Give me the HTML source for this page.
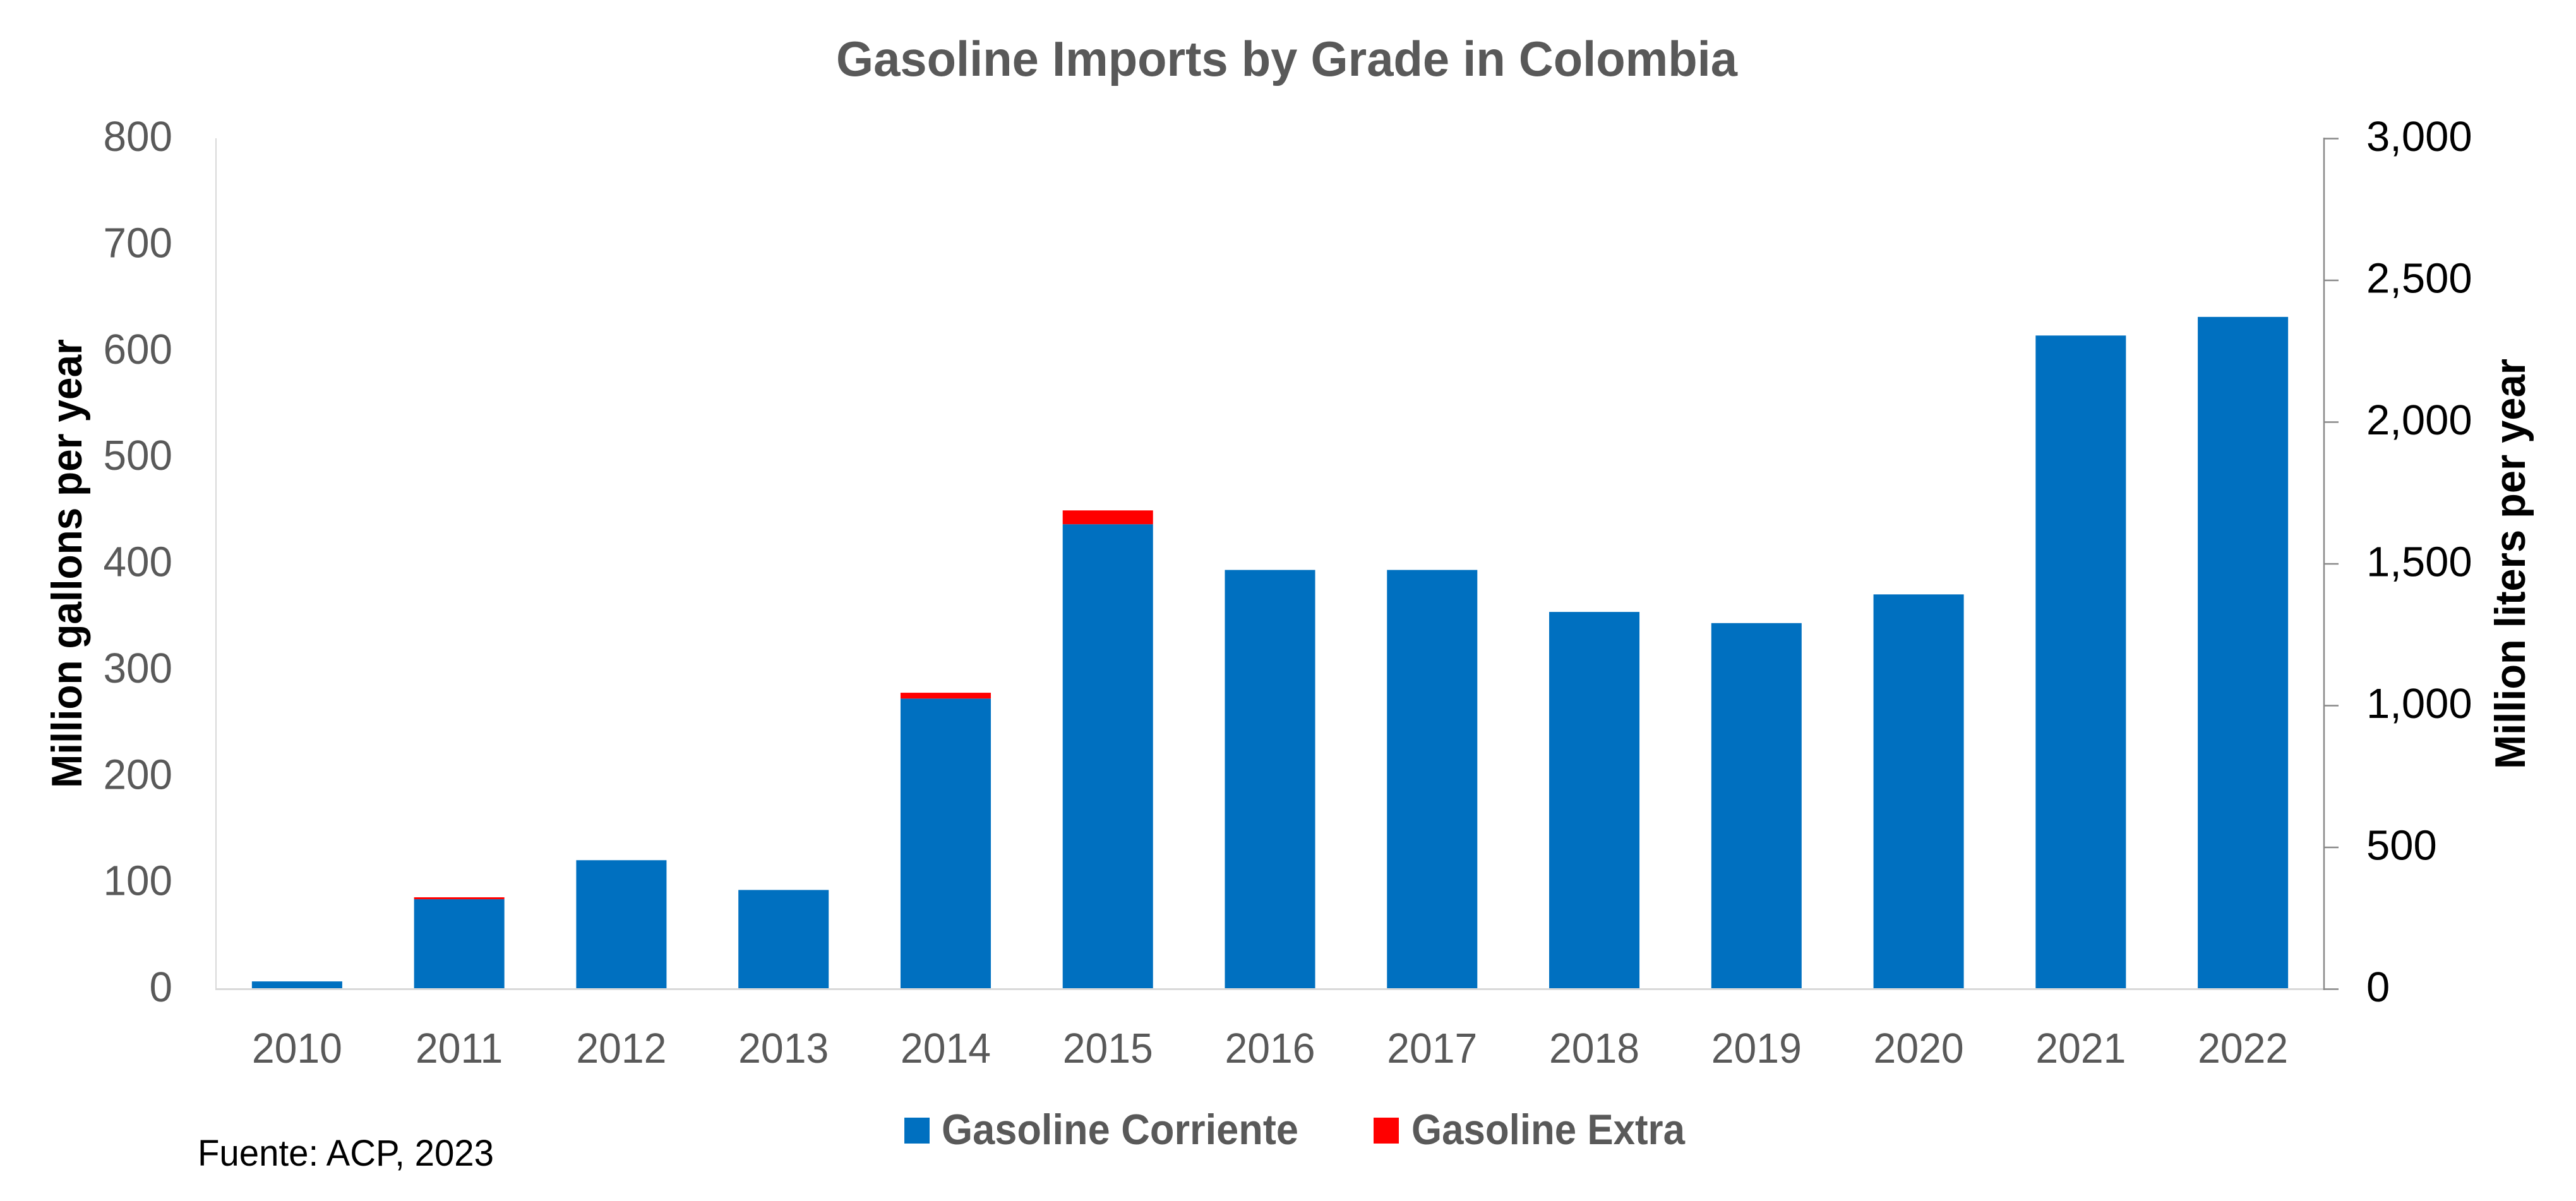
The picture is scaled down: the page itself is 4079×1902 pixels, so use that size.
<!DOCTYPE html>
<html lang="en">
<head>
<meta charset="utf-8">
<title>Gasoline Imports by Grade in Colombia</title>
<style>
  html, body { margin: 0; padding: 0; background: #ffffff; }
  svg { display: block; }
  text { font-family: "Liberation Sans", sans-serif; }
</style>
</head>
<body>
<svg id="chart" xmlns="http://www.w3.org/2000/svg" width="4079" height="1902" viewBox="0 0 4079 1902">
  <rect x="0" y="0" width="4079" height="1902" fill="#ffffff"/>
  <text x="1324" y="120" font-size="78" font-weight="700" fill="#595959" textLength="1427" lengthAdjust="spacingAndGlyphs">Gasoline Imports by Grade in Colombia</text>
  <text transform="translate(129,1248) rotate(-90)" font-size="68" font-weight="700" fill="#000000" textLength="711" lengthAdjust="spacingAndGlyphs">Million gallons per year</text>
  <text transform="translate(3998,1218) rotate(-90)" font-size="68" font-weight="700" fill="#000000" textLength="650" lengthAdjust="spacingAndGlyphs">Million liters per year</text>
  <g id="bars"></g>
  <g id="axes"></g>
  <g>
    <rect x="1432" y="1770" width="40" height="41" fill="#0070C0"/>
    <text x="1491" y="1812" font-size="68" font-weight="700" fill="#595959" textLength="565" lengthAdjust="spacingAndGlyphs">Gasoline Corriente</text>
    <rect x="2175" y="1770" width="40" height="41" fill="#FF0000"/>
    <text x="2235" y="1812" font-size="68" font-weight="700" fill="#595959" textLength="433" lengthAdjust="spacingAndGlyphs">Gasoline Extra</text>
  </g>
  <text x="313" y="1846" font-size="58" fill="#000000" textLength="469" lengthAdjust="spacingAndGlyphs">Fuente: ACP, 2023</text>
</svg>
<script>
const categories = ['2010','2011','2012','2013','2014','2015','2016','2017','2018','2019','2020','2021','2022'];
const corriente = [7, 84.3, 121, 93, 273, 437, 394, 394, 354.5, 344, 371, 614.5, 632];
const extra = [0, 1.8, 0, 0, 5.5, 13, 0, 0, 0, 0, 0, 0, 0];
const leftTicks = [0, 100, 200, 300, 400, 500, 600, 700, 800];
const rightTicks = [0, 500, 1000, 1500, 2000, 2500, 3000];

const NS = 'http://www.w3.org/2000/svg';
const plotLeft = 342, plotRight = 3680, plotTop = 219, plotBottom = 1566;
const leftMax = 800, rightMax = 3000;
const bandWidth = (plotRight - plotLeft) / categories.length;
const barWidth = bandWidth * 0.557;

function xCenter(i) { return plotLeft + bandWidth * (i + 0.5); }
function yLeft(v) { return plotBottom - (v / leftMax) * (plotBottom - plotTop); }
function yRight(v) { return plotBottom - (v / rightMax) * (plotBottom - plotTop); }
function fmt(v) { return v.toLocaleString('en-US'); }

const barsGroup = document.getElementById('bars');
const axesGroup = document.getElementById('axes');

function makeRect(parent, x, y, w, h, fill) {
  const r = document.createElementNS(NS, 'rect');
  r.setAttribute('x', x);
  r.setAttribute('y', y);
  r.setAttribute('width', w);
  r.setAttribute('height', h);
  r.setAttribute('fill', fill);
  parent.appendChild(r);
  return r;
}
function makeLine(parent, x1, y1, x2, y2, stroke, sw) {
  const l = document.createElementNS(NS, 'line');
  l.setAttribute('x1', x1);
  l.setAttribute('y1', y1);
  l.setAttribute('x2', x2);
  l.setAttribute('y2', y2);
  l.setAttribute('stroke', stroke);
  l.setAttribute('stroke-width', sw);
  parent.appendChild(l);
  return l;
}
function makeText(parent, str, x, y, size, fill, anchor, sx) {
  const t = document.createElementNS(NS, 'text');
  t.setAttribute('transform', 'translate(' + x + ',' + y + ') scale(' + sx + ',1)');
  t.setAttribute('font-size', size);
  t.setAttribute('fill', fill);
  t.setAttribute('text-anchor', anchor);
  t.textContent = str;
  parent.appendChild(t);
  return t;
}

categories.forEach(function (cat, i) {
  const left = xCenter(i) - barWidth / 2;
  const blueTop = yLeft(corriente[i]);
  const blue = makeRect(barsGroup, left, blueTop, barWidth, plotBottom - blueTop, '#0070C0');
  
  
  if (extra[i] > 0) {
    const redTop = yLeft(corriente[i] + extra[i]);
    const red = makeRect(barsGroup, left, redTop, barWidth, blueTop - redTop, '#FF0000');
    
    
  }
  const label = makeText(axesGroup, cat, xCenter(i), 1683, 67, '#595959', 'middle', 0.96);
  
  
});

const leftAxis = makeLine(axesGroup, plotLeft, plotTop, plotLeft, plotBottom + 1, '#d9d9d9', 2);



const xAxis = makeLine(axesGroup, plotLeft - 1, plotBottom + 0.5, plotRight, plotBottom + 0.5, '#d9d9d9', 3);



const rightAxis = makeLine(axesGroup, plotRight, plotTop - 1, plotRight, plotBottom + 2, '#898989', 2.5);



leftTicks.forEach(function (v) {
  const t = makeText(axesGroup, fmt(v), 273, yLeft(v) + 20, 67, '#595959', 'end', 0.98);
  
  
});

rightTicks.forEach(function (v) {
  const y = yRight(v);
  const tick = makeLine(axesGroup, plotRight, y + 0.5, 3703, y + 0.5, '#898989', 2.5);
  
  
  const t = makeText(axesGroup, fmt(v), 3747, y + 20, 67, '#000000', 'start', 1);
  
  
});
</script>
</body>
</html>
